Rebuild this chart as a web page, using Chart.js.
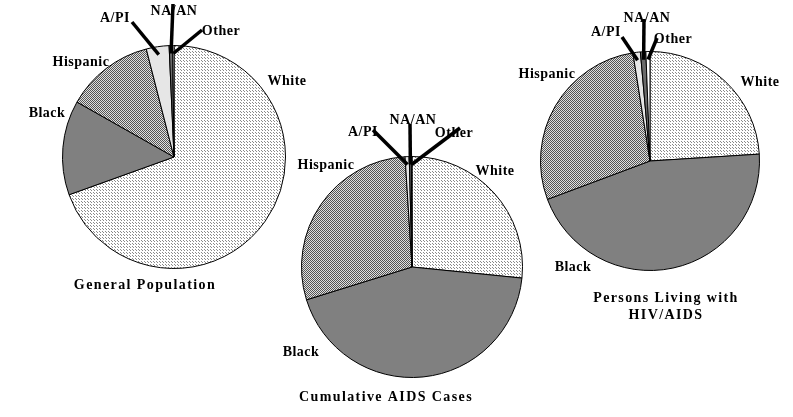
<!DOCTYPE html>
<html>
<head>
<meta charset="utf-8">
<script src="https://cdn.jsdelivr.net/npm/chart.js@4/dist/chart.umd.min.js"></script>
<style>
  html, body { margin: 0; padding: 0; background: #fff; overflow: hidden; }
  #wrap { position: relative; width: 793px; height: 417px; }
  #wrap canvas { position: absolute; left: 0; top: 0; }
</style>
</head>
<body>
<div id="wrap">
  <canvas id="pieGeneral" width="793" height="417"></canvas>
  <canvas id="pieCumul" width="793" height="417"></canvas>
  <canvas id="pieLiving" width="793" height="417"></canvas>
</div>
<script>
// categories, same order in all three pies
const groupes = ['White', 'Black', 'Hispanic', 'A/PI', 'NA/AN', 'Other'];

// percentages
const populationGenerale = [69.5, 13.7, 12.8, 3.3, 0.5, 0.2];
const casCumulesSida = [26.6, 43.6, 28.8, 0.6, 0.3, 0.1];
const personnesVivantVih = [24.0, 45.3, 28.2, 1.1, 0.8, 0.6];

const titreGeneral = ['General Population'];
const titreCumul = ['Cumulative AIDS Cases'];
const titreVivant = ['Persons Living with', 'HIV/AIDS'];

const W = 793, H = 417;
const POLICE = 'bold 14px "Liberation Serif", "Times New Roman", serif';

function motif(fond, encre, taille, points) {
    const c = document.createElement('canvas');
    c.width = taille;
    c.height = taille;
    const x = c.getContext('2d');
    x.fillStyle = fond;
    x.fillRect(0, 0, taille, taille);
    x.fillStyle = encre;
    points.forEach(p => x.fillRect(p[0], p[1], 1, 1));
    return x.createPattern(c, 'repeat');
}

const couleurs = [
    motif('#ffffff', '#8a8a8a', 3, [[0, 0], [1, 1]]),   // White
    '#808080',                                           // Black
    motif('#e0e0e0', '#555555', 2, [[0, 0], [1, 1]]),    // Hispanic
    '#e6e6e6',                                           // A/PI
    '#6a6a6a',                                           // NA/AN
    '#ffffff'                                            // Other
];

// label plugin: text + thick leader lines for the small slices
const etiquettesPlugin = {
    id: 'etiquettes',
    afterDatasetsDraw(chart, args, opts) {
        const ctx = chart.ctx;
        const arcs = chart.getDatasetMeta(0).data;
        ctx.save();
        // leader lines
        ctx.strokeStyle = '#000';
        ctx.lineWidth = 3.5;
        ctx.lineCap = 'butt';
        (opts.leaders || []).forEach(l => {
            const arc = arcs[l.index];
            const p = arc.getProps(['x', 'y', 'startAngle', 'endAngle', 'outerRadius'], true);
            const mid = (p.startAngle + p.endAngle) / 2;
            const rr = p.outerRadius - 8;
            ctx.beginPath();
            ctx.moveTo(l.x, l.y);
            ctx.lineTo(p.x + Math.cos(mid) * rr, p.y + Math.sin(mid) * rr);
            ctx.stroke();
        });
        // text
        ctx.fillStyle = '#000';
        ctx.font = POLICE;
        ctx.letterSpacing = '0.5px';
        ctx.textAlign = 'center';
        ctx.textBaseline = 'middle';
        chart.data.labels.forEach((lab, i) => {
            const pos = opts.positions[i];
            ctx.fillText(lab, pos[0], pos[1]);
        });
        ctx.letterSpacing = '1.4px';
        (opts.titre || []).forEach((ligne, i) => {
            ctx.fillText(ligne, opts.titrePos[0], opts.titrePos[1] + i * 17);
        });
        ctx.restore();
    }
};

function dessinerCamembert(canvasId, valeurs, cx, cy, r, reglages) {
    const canvas = document.getElementById(canvasId);
    if (!canvas) return;
    const ctx = canvas.getContext('2d');

    new Chart(ctx, {
        type: 'pie',
        data: {
            labels: groupes,
            datasets: [{
                data: valeurs,
                backgroundColor: couleurs,
                borderColor: '#000',
                borderWidth: 1
            }]
        },
        options: {
            responsive: false,
            animation: false,
            layout: {
                padding: { left: cx - r, right: W - cx - r, top: cy - r, bottom: H - cy - r }
            },
            plugins: {
                legend: { display: false },
                tooltip: { enabled: false },
                etiquettes: reglages
            }
        },
        plugins: [etiquettesPlugin]
    });
}

dessinerCamembert('pieGeneral', populationGenerale, 174, 157, 112, {
    positions: [[287, 81], [47, 113], [81, 62], [115, 18], [174, 11], [221, 31]],
    leaders: [{ index: 3, x: 132, y: 22 }, { index: 4, x: 173, y: 4 }, { index: 5, x: 202, y: 30 }],
    titre: titreGeneral,
    titrePos: [145, 285]
});

dessinerCamembert('pieCumul', casCumulesSida, 412, 267, 111, {
    positions: [[495, 171], [301, 352], [326, 165], [363, 132], [413, 120], [454, 133]],
    leaders: [{ index: 3, x: 373, y: 130 }, { index: 4, x: 410, y: 124 }, { index: 5, x: 460, y: 128 }],
    titre: titreCumul,
    titrePos: [386, 397]
});

dessinerCamembert('pieLiving', personnesVivantVih, 650, 161, 110, {
    positions: [[760, 82], [573, 267], [547, 74], [606, 32], [647, 18], [673, 39]],
    leaders: [{ index: 3, x: 622, y: 37 }, { index: 4, x: 644, y: 19 }, { index: 5, x: 657, y: 38 }],
    titre: titreVivant,
    titrePos: [666, 298]
});
</script>
</body>
</html>
